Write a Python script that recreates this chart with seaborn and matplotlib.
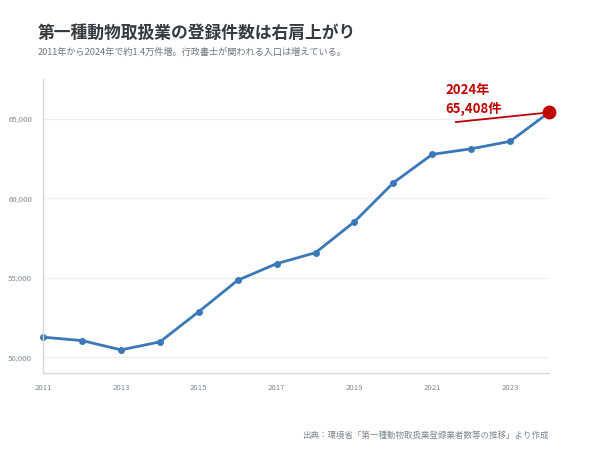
import pandas as pd
import matplotlib.pyplot as plt
import seaborn as sns

# registrations per year
years = [2011, 2012, 2013, 2014, 2015, 2016, 2017, 2018, 2019, 2020, 2021, 2022, 2023, 2024]
counts = [51258, 51044, 50459, 50962, 52868, 54843, 55887, 56579, 58528, 60981, 62767, 63119, 63585, 65408]
y_ticks = [50000, 55000, 60000, 65000]
x_ticks = [2011, 2013, 2015, 2017, 2019, 2021, 2023]

title = "第一種動物取扱業の登録件数は右肩上がり"
subtitle = "2011年から2024年で約1.4万件増。行政書士が関われる入口は増えている。"
source = "出典：環境省「第一種動物取扱業登録業者数等の推移」より作成"
callout = "2024年\n65,408件"

df = pd.DataFrame({"year": years, "count": counts})

sns.set_theme(style="white")
plt.rcParams["font.family"] = ["Noto Sans CJK JP", "DejaVu Sans"]

blue = "#3a78b8"
red = "#c00000"
tick_col = "#7d8a96"

fig = plt.figure(figsize=(6, 4.5), dpi=100)
ax = fig.add_axes([0.072, 0.171, 0.843, 0.653])

sns.lineplot(data=df, x="year", y="count", ax=ax, color=blue, linewidth=2.0,
             marker="o", markersize=5, markeredgewidth=0, clip_on=False)

# highlight the last year
last = df.iloc[-1]
ax.scatter([last["year"]], [last["count"]], s=80, color=red, zorder=5, clip_on=False)
ax.annotate("", xy=(last["year"], last["count"]), xytext=(2021.6, 64800),
            arrowprops=dict(arrowstyle="-", color=red, lw=1.3, shrinkA=0, shrinkB=4))
ax.text(2021.33, 66200, callout, color=red, fontsize=9.5, fontweight="bold",
        va="center", ha="left", linespacing=1.45)

ax.set_xlim(2011, 2024)
ax.set_ylim(49000, 67500)
ax.set_xticks(x_ticks)
ax.set_yticks(y_ticks)
ax.set_yticklabels([f"{v:,}" for v in y_ticks])
ax.set_xlabel("")
ax.set_ylabel("")
ax.tick_params(axis="both", labelsize=5.6, colors=tick_col, length=0, pad=8)
ax.yaxis.grid(True, color="#eeeeee", linewidth=0.8)
ax.xaxis.grid(False)
for side in ["top", "right"]:
    ax.spines[side].set_visible(False)
for side in ["left", "bottom"]:
    ax.spines[side].set_color("#d3d9de")
    ax.spines[side].set_linewidth(1.0)

fig.text(0.062, 0.927, title, fontsize=12.1, fontweight="bold", color="#333a40",
         va="center", ha="left")
fig.text(0.062, 0.884, subtitle, fontsize=6.6, color="#6b7680", va="center", ha="left")
fig.text(0.915, 0.033, source, fontsize=6.1, color="#7d8a96", va="center", ha="right")

fig.savefig("out.png", dpi=100)
